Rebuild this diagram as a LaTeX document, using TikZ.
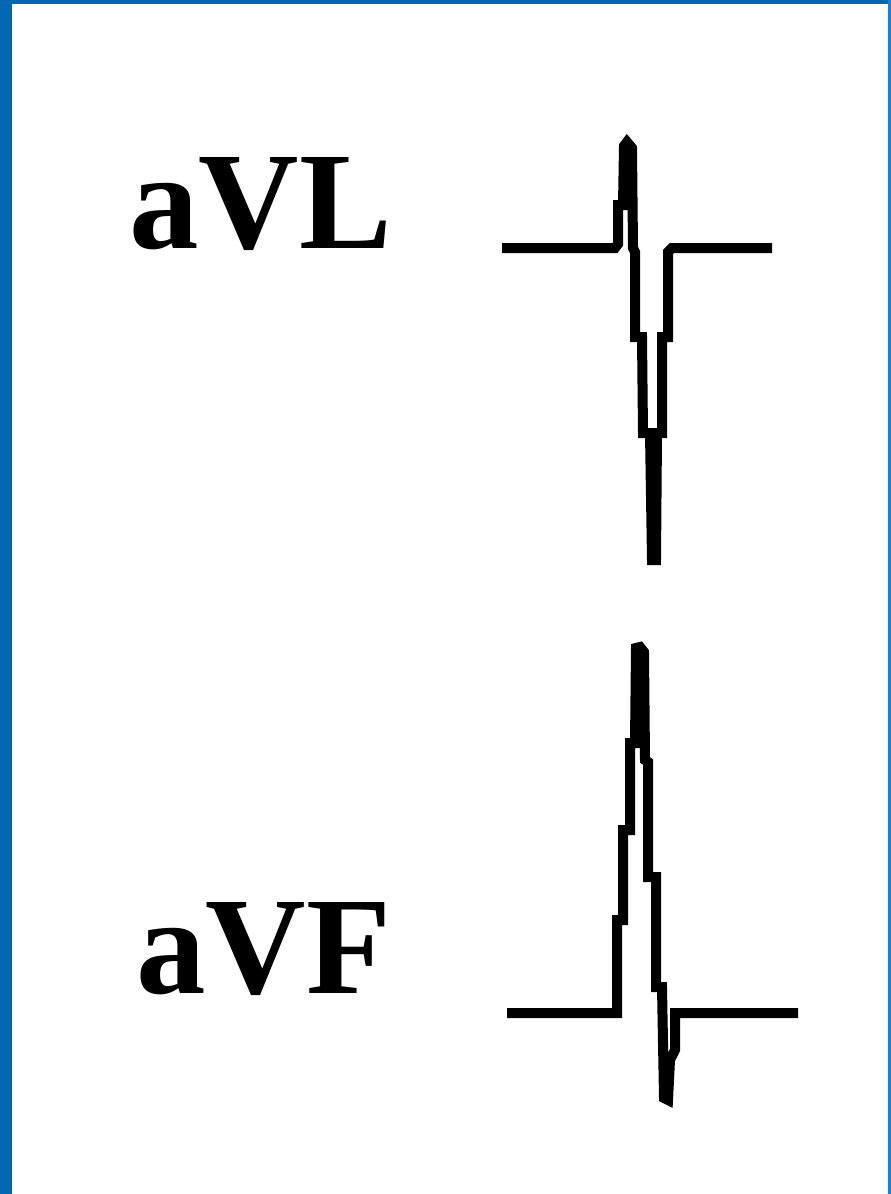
\documentclass[tikz,border=0pt]{standalone}
\usepackage{fontspec}
\setmainfont{Liberation Serif}
\begin{document}
\begin{tikzpicture}[x=1pt,y=-1pt,
  lead/.style={font=\fontsize{139}{139}\selectfont\bfseries, inner sep=0pt, anchor=base west},
  trace/.style={line width=10pt, line join=miter, line cap=butt, black}]
\definecolor{frameblue}{RGB}{0,104,178}
\definecolor{frameblue2}{RGB}{20,130,215}
\useasboundingbox (0,0) rectangle (891,1194);
\fill[white] (0,0) rectangle (891,1194);
% frame
\fill[frameblue] (0,0) rectangle (12,1194);
\fill[frameblue] (0,0) rectangle (891,4);
\fill[frameblue2] (888,0) rectangle (891,1194);
% labels
\node[lead] (avl) at (129,248) {aVL};
\node[lead] (avf) at (136,993) {aVF};
% aVL trace
\draw[trace] (502,248) -- (615,248) -- (618,244) -- (618,205) -- (623,205) -- (624,146) -- (627,142)
  -- (632,148) -- (633,248) -- (635,252) -- (635,337) -- (642,337) -- (643,433) -- (650,433) -- (652,560)
  -- (656,560) -- (657,433) -- (662,433) -- (662,337) -- (668,337) -- (668,252) -- (672,248) -- (772,248);
% aVF trace
\draw[trace] (507,1013) -- (617,1013) -- (617,920) -- (623,920) -- (623,830) -- (630,830) -- (630,743)
  -- (635,743) -- (636,648) -- (640,647) -- (644,652) -- (645,760) -- (648,762) -- (648,877) -- (656,877)
  -- (656,987) -- (662,987) -- (664,1098) -- (668,1100) -- (670,1060) -- (675,1050) -- (675,1013) -- (798,1013);
\end{tikzpicture}
\end{document}
